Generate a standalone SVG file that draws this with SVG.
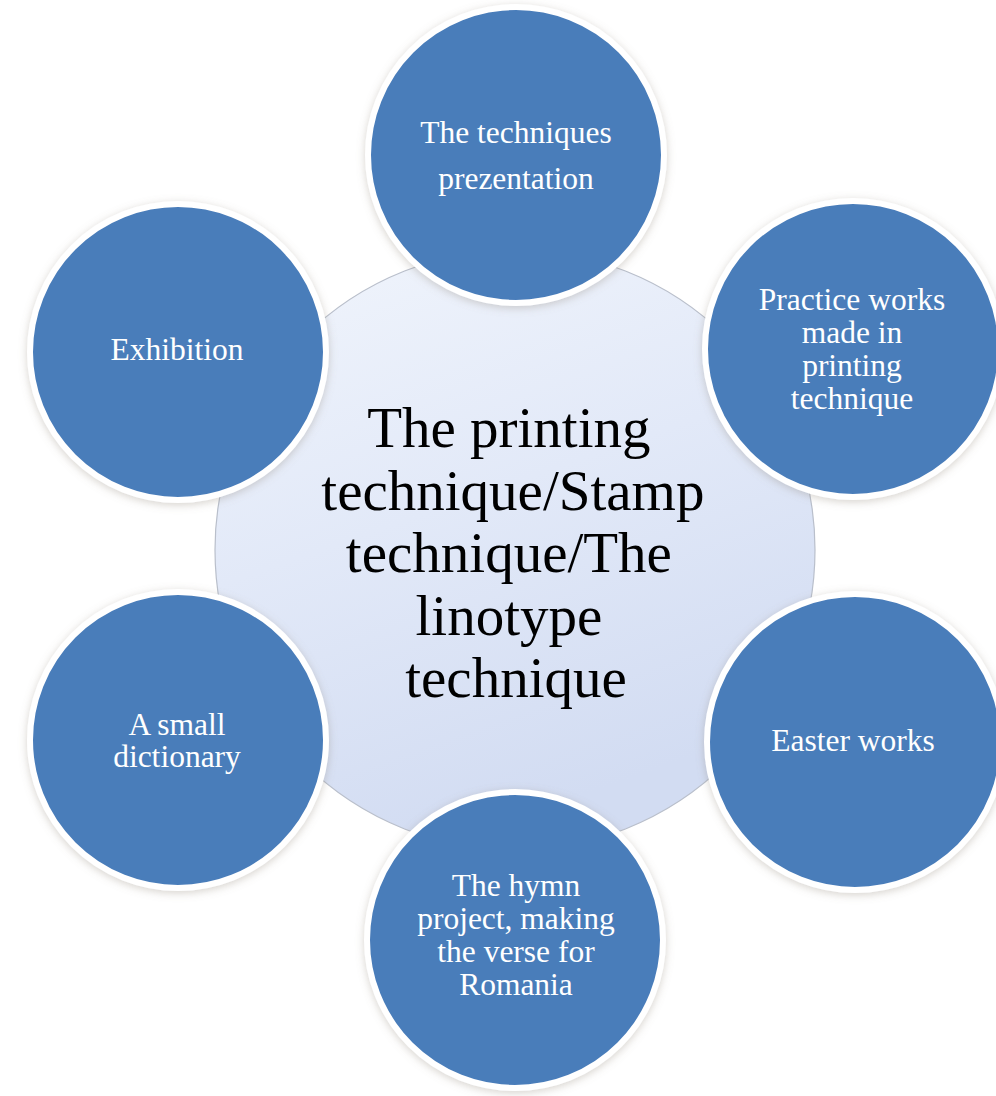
<svg xmlns="http://www.w3.org/2000/svg" width="996" height="1096" viewBox="0 0 996 1096">
  <defs>
    <linearGradient id="hubGrad" x1="0" y1="0" x2="0.35" y2="1">
      <stop offset="0" stop-color="#f1f5fc"/>
      <stop offset="0.5" stop-color="#e2e9f8"/>
      <stop offset="1" stop-color="#d2dcf2"/>
    </linearGradient>
    <filter id="shadow" x="-20%" y="-20%" width="140%" height="140%">
      <feGaussianBlur in="SourceAlpha" stdDeviation="4"/>
      <feOffset dx="0" dy="2" result="b"/>
      <feFlood flood-color="#8a7f70" flood-opacity="0.35"/>
      <feComposite in2="b" operator="in"/>
      <feMerge>
        <feMergeNode/>
        <feMergeNode in="SourceGraphic"/>
      </feMerge>
    </filter>
  </defs>
  <style>
    .sat { fill: #4a7dba; stroke: #ffffff; stroke-width: 6; filter: url(#shadow); }
    .hub { fill: url(#hubGrad); stroke: #b9bfcb; stroke-width: 1.2; }
    .lbl { font-family: "Liberation Serif", "Times New Roman", serif; font-size: 31.5px; fill: #ffffff; text-anchor: middle; }
    .hubtxt { font-family: "Liberation Serif", "Times New Roman", serif; font-size: 57px; fill: #000000; text-anchor: middle; }
  </style>
  <rect x="0" y="0" width="996" height="1096" fill="#ffffff"/>

  <g id="connectors"></g>

  <g id="node-center">
    <circle class="hub" cx="515" cy="550" r="300"/>
    <text class="hubtxt">
      <tspan x="516" y="447">The printing</tspan>
      <tspan x="520" y="510">technique/Stamp</tspan>
      <tspan x="516" y="572">technique/The</tspan>
      <tspan x="516" y="635">linotype</tspan>
      <tspan x="516" y="697">technique</tspan>
    </text>
  </g>

  <g id="node-top">
    <circle class="sat" cx="516" cy="155" r="148"/>
    <text class="lbl"><tspan x="516" y="143">The techniques</tspan><tspan x="516" y="189">prezentation</tspan></text>
  </g>

  <g id="node-top-right">
    <circle class="sat" cx="853" cy="349" r="148"/>
    <text class="lbl"><tspan x="852" y="310">Practice works</tspan><tspan x="852" y="343">made in</tspan><tspan x="852" y="376">printing</tspan><tspan x="852" y="409">technique</tspan></text>
  </g>

  <g id="node-bottom-right">
    <circle class="sat" cx="855" cy="742" r="148"/>
    <text class="lbl"><tspan x="853" y="751">Easter works</tspan></text>
  </g>

  <g id="node-bottom">
    <circle class="sat" cx="515" cy="940" r="148"/>
    <text class="lbl"><tspan x="516" y="896">The hymn</tspan><tspan x="516" y="929">project, making</tspan><tspan x="516" y="962">the verse for</tspan><tspan x="516" y="995">Romania</tspan></text>
  </g>

  <g id="node-bottom-left">
    <circle class="sat" cx="178" cy="740" r="148"/>
    <text class="lbl"><tspan x="177" y="735">A small</tspan><tspan x="177" y="767">dictionary</tspan></text>
  </g>

  <g id="node-top-left">
    <circle class="sat" cx="178" cy="352" r="148"/>
    <text class="lbl"><tspan x="177" y="360">Exhibition</tspan></text>
  </g>
</svg>
